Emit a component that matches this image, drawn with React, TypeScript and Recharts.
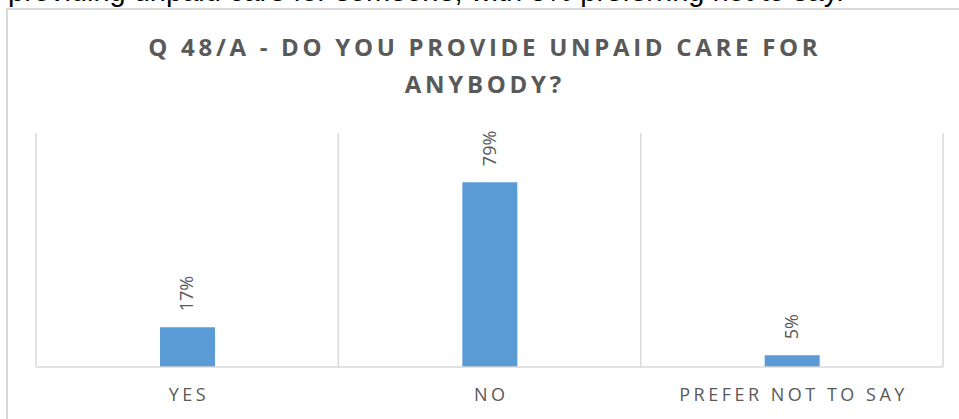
import React from "react";
import { BarChart, Bar, XAxis, YAxis, CartesianGrid, LabelList } from "recharts";

const categories = ["YES", "NO", "PREFER NOT TO SAY"];
const shares = [17, 79, 5];
const titleLines = ["Q 48/A - DO YOU PROVIDE UNPAID CARE FOR", "ANYBODY?"];
const introText = "providing unpaid care for someone, with 5% preferring not to say.";

const data = categories.map((c, i) => ({ name: c, value: shares[i] }));

const GRID = "#d9d9d9";
const TEXT = "#595959";
const FONT = "'Open Sans', sans-serif";
const AXIS_LS = 3.5;

const AxisTick = (props: any) => {
  const { x, y, payload } = props;
  return (
    <text
      x={x + AXIS_LS / 2}
      y={y + 26}
      textAnchor="middle"
      fill={TEXT}
      fontFamily={FONT}
      fontSize={18}
      letterSpacing={AXIS_LS}
    >
      {payload.value}
    </text>
  );
};

const ValueLabel = (props: any) => {
  const { x, y, width, value } = props;
  const tx = x + width / 2 + 6;
  const ty = y - 16;
  return (
    <text
      x={tx}
      y={ty}
      transform={`rotate(-90, ${tx}, ${ty})`}
      textAnchor="start"
      fill={TEXT}
      fontFamily={FONT}
      fontSize={18}
    >
      {`${value}%`}
    </text>
  );
};

export default function App() {
  return (
    <div
      style={{
        position: "fixed",
        left: 0,
        top: 0,
        width: 959,
        height: 419,
        overflow: "hidden",
        background: "#fff",
      }}
    >
      <div
        style={{
          position: "absolute",
          left: 8,
          top: -23,
          fontFamily: "'Liberation Sans', Arial, sans-serif",
          fontSize: 29,
          lineHeight: 1,
          color: "#000",
          whiteSpace: "nowrap",
        }}
      >
        {introText}
      </div>
      <div
        style={{
          position: "absolute",
          left: 6,
          top: 8,
          width: 1000,
          height: 500,
          borderLeft: `2px solid ${GRID}`,
          borderTop: `2px solid ${GRID}`,
          boxSizing: "border-box",
        }}
      />
      <div style={{ position: "absolute", left: 0, top: 0 }}>
        <BarChart
          width={959}
          height={419}
          data={data}
          margin={{ top: 133, right: 16, bottom: 0, left: 36 }}
        >
          <CartesianGrid
            horizontal={false}
            vertical={true}
            stroke={GRID}
            strokeWidth={1.5}
            verticalCoordinatesGenerator={({ offset }: any) =>
              categories.map((_, i) => offset.left + (i * offset.width) / categories.length).concat([
                offset.left + offset.width,
              ])
            }
          />
          <YAxis hide domain={[0, 100]} />
          <XAxis
            dataKey="name"
            height={52}
            axisLine={{ stroke: GRID, strokeWidth: 1.5 }}
            tickLine={false}
            tick={<AxisTick />}
            interval={0}
          />
          <Bar dataKey="value" fill="#5B9BD5" barSize={55} isAnimationActive={false}>
            <LabelList dataKey="value" content={<ValueLabel />} />
          </Bar>
        </BarChart>
      </div>
      <svg
        width={959}
        height={419}
        style={{ position: "absolute", left: 0, top: 0, pointerEvents: "none" }}
      >
        {titleLines.map((line, i) => (
          <text
            key={i}
            x={483 + 3.7 / 2}
            y={56 + i * 36.5}
            textAnchor="middle"
            fill={TEXT}
            fontFamily={FONT}
            fontWeight={700}
            fontSize={24}
            letterSpacing={3.7}
          >
            {line}
          </text>
        ))}
      </svg>
    </div>
  );
}
